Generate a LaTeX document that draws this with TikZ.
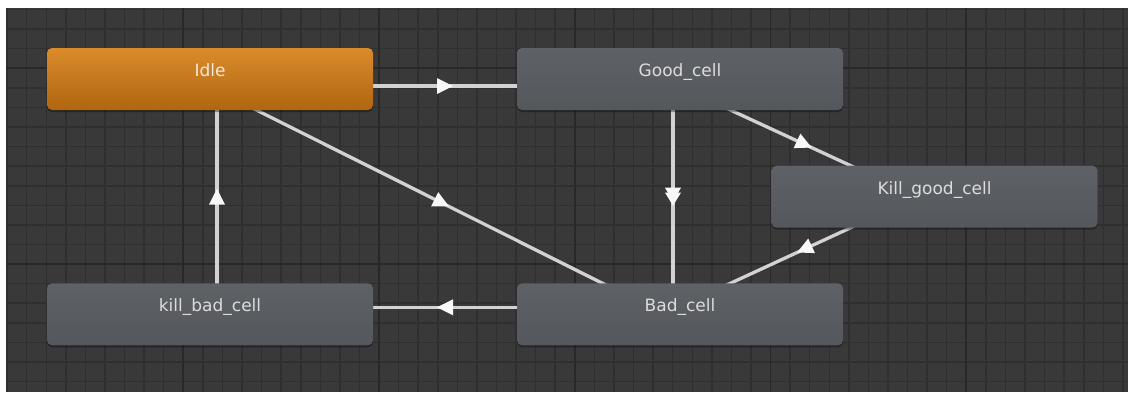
\documentclass[tikz,border=0pt]{standalone}
\usepackage{fontspec}
\setmainfont{DejaVu Sans}
\usetikzlibrary{calc,decorations.markings}

\definecolor{canvasbg}{HTML}{393939}
\definecolor{gridminor}{HTML}{2F2F2F}
\definecolor{gridmajor}{HTML}{282828}
\definecolor{statetop}{HTML}{5E6166}
\definecolor{statebot}{HTML}{54575B}
\definecolor{idletop}{HTML}{DA8C2C}
\definecolor{idlebot}{HTML}{B0650F}
\definecolor{wire}{HTML}{D2D2D2}
\definecolor{tipcol}{HTML}{F8F8F8}
\definecolor{labelgray}{HTML}{DCDCDC}
\definecolor{labelidle}{HTML}{F3E8DC}

\pgfdeclarelayer{gridlayer}
\pgfdeclarelayer{wires}
\pgfsetlayers{gridlayer,wires,main}

\tikzset{
  statebox/.style={rectangle, rounded corners=5pt, minimum width=326pt,
    minimum height=62pt, inner sep=0pt, outer sep=0pt,
    top color=statetop, bottom color=statebot,
    preaction={fill=black, opacity=0.35, transform canvas={yshift=-2pt}}},
  idlebox/.style={statebox, top color=idletop, bottom color=idlebot},
  statetext/.style={anchor=base, text=labelgray, inner sep=0pt,
    font=\fontsize{17}{20}\selectfont},
  idletext/.style={statetext, text=labelidle},
  minorline/.style={draw=gridminor, line width=1.5pt},
  majorline/.style={draw=gridmajor, line width=1.8pt},
  transition/.style={draw=wire, line width=3.3pt, postaction={decorate},
    decoration={markings, mark=at position 0.5 with
      {\fill[tipcol] (8,0) -- (-8,-8) -- (-8,8) -- cycle;}}},
  multitransition/.style={draw=wire, line width=3.3pt, postaction={decorate},
    decoration={markings, mark=at position 0.5 with
      {\fill[tipcol] (5,0) -- (-9,-8) -- (-9,8) -- cycle;
       \fill[tipcol] (9,0) -- (-4,-8) -- (-4,8) -- cycle;}}},
}

\begin{document}
\begin{tikzpicture}[x=1pt, y=-1pt]
  \useasboundingbox (0,0) rectangle (1128,392);

  % editor canvas with its grid
  \begin{pgfonlayer}{gridlayer}
    \fill[white] (0,0) rectangle (1128,392);
    \fill[canvasbg] (6,8) rectangle (1128,392);
    \begin{scope}
      \clip (6,8) rectangle (1128,392);
      \foreach \k in {-9,...,48}
        \draw[minorline] ({183.3+\k*19.575},8) -- ({183.3+\k*19.575},392);
      \foreach \k in {-3,...,17}
        \draw[minorline] (6,{68.3+\k*19.575}) -- (1128,{68.3+\k*19.575});
      \foreach \k in {0,10,20,30,40}
        \draw[majorline] ({183.3+\k*19.575},8) -- ({183.3+\k*19.575},392);
      \foreach \k in {0,10}
        \draw[majorline] (6,{68.3+\k*19.575}) -- (1128,{68.3+\k*19.575});
    \end{scope}
  \end{pgfonlayer}

  % states
  \node[idlebox]  (idle)     at (210,79)     {};
  \node[statebox] (good)     at (680,79)     {};
  \node[statebox] (killgood) at (934.5,196.7) {};
  \node[statebox] (bad)      at (680,314.3)  {};
  \node[statebox] (killbad)  at (210,314.3)  {};

  \node[idletext]  (idlelabel)     at ([yshift=2.5pt]idle.center)     {Idle};
  \node[statetext] (goodlabel)     at ([yshift=2.5pt]good.center)     {Good\_cell};
  \node[statetext] (killgoodlabel) at ([yshift=2.5pt]killgood.center) {Kill\_good\_cell};
  \node[statetext] (badlabel)      at ([yshift=2.5pt]bad.center)      {Bad\_cell};
  \node[statetext] (killbadlabel)  at ([yshift=2.5pt]killbad.center)  {kill\_bad\_cell};

  % transitions, offset to the right of their direction
  \begin{pgfonlayer}{wires}
    \draw[transition] ($(idle.center)!7pt!-90:(good.center)$) -- ($(good.center)!7pt!90:(idle.center)$);
    \draw[multitransition] ($(good.center)!7pt!-90:(bad.center)$) -- ($(bad.center)!7pt!90:(good.center)$);
    \draw[transition] ($(good.center)!7pt!-90:(killgood.center)$) -- ($(killgood.center)!7pt!90:(good.center)$);
    \draw[transition] ($(killgood.center)!7pt!-90:(bad.center)$) -- ($(bad.center)!7pt!90:(killgood.center)$);
    \draw[transition] ($(idle.center)!7pt!-90:(bad.center)$) -- ($(bad.center)!7pt!90:(idle.center)$);
    \draw[transition] ($(bad.center)!7pt!-90:(killbad.center)$) -- ($(killbad.center)!7pt!90:(bad.center)$);
    \draw[transition] ($(killbad.center)!7pt!-90:(idle.center)$) -- ($(idle.center)!7pt!90:(killbad.center)$);
  \end{pgfonlayer}
\end{tikzpicture}
\end{document}
